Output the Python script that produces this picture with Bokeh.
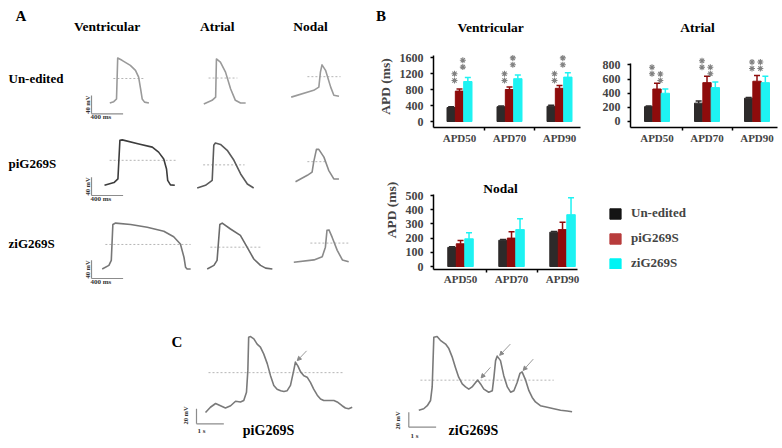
import math
from bokeh.plotting import figure
from bokeh.layouts import row, column
from bokeh.models import (ColumnDataSource, Range1d, FixedTicker, Legend, LegendItem,
                          Arrow, NormalHead, Label)
from bokeh.transform import dodge
from bokeh.embed import file_html
from bokeh.resources import INLINE
from bokeh.core.properties import value

FONT = "Liberation Serif"

# ---------------- data: panel B (APD, ms) ----------------
GROUP_POS = [1, 2, 3]
GROUP_LABELS = {1: "APD50", 2: "APD70", 3: "APD90"}
SERIES_NAMES = ["Un-edited", "piG269S", "ziG269S"]

VENT_UN = [350, 370, 380]
VENT_UN_ERR = [20, 20, 25]
VENT_PI = [760, 800, 830]
VENT_PI_ERR = [50, 60, 70]
VENT_ZI = [1000, 1070, 1110]
VENT_ZI_ERR = [100, 90, 110]
VENT_TICKS = [0, 400, 800, 1200, 1600]
VENT_STAR_PI = [1025, 1025, 1025]
VENT_STAR_ZI = [1360, 1420, 1420]

ATR_UN = [210, 260, 330]
ATR_UN_ERR = [10, 30, 10]
ATR_PI = [460, 550, 570]
ATR_PI_ERR = [80, 90, 80]
ATR_ZI = [400, 480, 550]
ATR_ZI_ERR = [60, 80, 90]
ATR_TICKS = [0, 200, 400, 600, 800]
ATR_STAR_PI = [676, 769, 750]
ATR_STAR_ZI = [581, 676, 750]

NOD_UN = [135, 185, 242]
NOD_UN_ERR = [5, 5, 5]
NOD_PI = [160, 200, 260]
NOD_PI_ERR = [23, 45, 52]
NOD_ZI = [195, 260, 365]
NOD_ZI_ERR = [42, 76, 120]
NOD_TICKS = [0, 100, 200, 300, 400, 500]

# ---------------- data: panel A action potentials (ms, mV) ----------------
UN_VENT_T = [0, 50, 85, 100, 155, 260, 325, 365, 390, 410, 440, 495]
UN_VENT_V = [-84, -81, -75, 15, 10, -1, -12, -27, -53, -75, -82, -84]
UN_ATR_T = [0, 105, 150, 160, 210, 275, 340, 400, 465, 530]
UN_ATR_V = [-86, -78, -71, 13, 6, -16, -53, -78, -84, -84]
UN_NOD_T = [0, 285, 350, 370, 390, 435, 500, 540, 605]
UN_NOD_V = [-71, -56, -49, -16, 0, -12, -49, -67, -69]

PI_VENT_T = [0, 120, 170, 195, 225, 435, 605, 685, 750, 785, 800, 835, 890]
PI_VENT_V = [-78, -72, -64, 21, 22, 13, 6, -5, -20, -42, -67, -77, -78]
PI_ATR_T = [0, 105, 190, 210, 230, 295, 380, 465, 550, 635, 715]
PI_ATR_V = [-84, -78, -67, 10, 15, 12, -1, -23, -53, -75, -84]
PI_NOD_T = [0, 150, 210, 230, 265, 295, 360, 420, 485, 550]
PI_NOD_V = [-70, -56, -49, -27, 1, 1, -16, -45, -64, -64]

ZI_VENT_T = [0, 85, 115, 135, 170, 360, 570, 780, 905, 990, 1035, 1055, 1075, 1120]
ZI_VENT_V = [-85, -77, -66, 13, 16, 13, 7, -2, -14, -30, -59, -81, -85, -85]
ZI_ATR_T = [0, 85, 125, 160, 190, 295, 420, 505, 590, 675, 740, 825]
ZI_ATR_V = [-85, -77, -66, 13, 16, 3, -11, -37, -63, -77, -83, -85]
ZI_NOD_T = [0, 255, 360, 400, 420, 445, 485, 550, 615, 695]
ZI_NOD_V = [-70, -65, -58, -37, 0, 1, -15, -44, -65, -69]

# APD50 reference lines: start ms, end ms, level mV
UN_DASH = [(45, 425, -30), (60, 425, -29), (205, 625, -26)]
PI_DASH = [(65, 900, -23), (75, 600, -33), (150, 400, -26)]
ZI_DASH = [(40, 1120, -31), (40, 695, -37), (210, 690, -28)]

ROW_LABELS = ["Un-edited", "piG269S", "ziG269S"]
COL_LABELS = ["Ventricular", "Atrial", "Nodal"]

# ---------------- data: panel C (s, mV) ----------------
PI_C_T = [0, 0.18, 0.37, 0.55, 0.73, 0.92, 1.10, 1.28, 1.40, 1.50, 1.55, 1.58, 1.65, 1.77,
          1.89, 2.01, 2.13, 2.26, 2.38, 2.50, 2.62, 2.75, 2.87, 2.99, 3.11, 3.23, 3.29, 3.38,
          3.48, 3.60, 3.72, 3.84, 3.96, 4.09, 4.21, 4.33, 4.45, 4.70, 4.82, 5.00, 5.12, 5.24, 5.37]
PI_C_V = [-70, -63, -58, -61, -64, -61, -55, -56, -54, -43, -14, 30, 31, 28, 21, 17, 8, -5,
          -21, -34, -39, -41, -42, -41, -34, -14, -3, -8, -16, -21, -23, -30, -39, -47, -52,
          -54, -54, -54, -56, -61, -64, -65, -63]
ZI_C_T = [0, 0.18, 0.31, 0.43, 0.49, 0.53, 0.55, 0.67, 0.79, 0.98, 1.10, 1.22, 1.34, 1.46,
          1.59, 1.71, 1.83, 1.95, 2.08, 2.16, 2.26, 2.38, 2.56, 2.69, 2.75, 2.81, 2.87, 2.99,
          3.11, 3.24, 3.36, 3.48, 3.60, 3.70, 3.78, 3.91, 4.03, 4.15, 4.27, 4.45, 4.70, 4.94,
          5.19, 5.43, 5.61]
ZI_C_V = [-67, -65, -61, -54, -36, 8, 30, 31, 26, 21, 15, 4, -10, -23, -32, -36, -39, -36,
          -30, -27, -32, -39, -43, -41, -23, -1, 5, -1, -21, -36, -43, -41, -30, -18, -16,
          -27, -41, -50, -56, -61, -63, -65, -67, -68, -69]
PI_C_DASH = (0.11, 5.05, -17)
ZI_C_DASH = (0.06, 4.94, -27)
# arrows: tip t, tip v, tail t, tail v
PI_C_ARROWS = [(3.36, -1, 3.70, 12)]
ZI_C_ARROWS = [(2.28, -24, 2.62, -10), (2.96, 6, 3.35, 21), (3.82, -14, 4.19, 1)]

BAR_COLORS = ["#2d2a2a", "#8e0c0c", "#1ef2f2"]
LEGEND_COLORS = ["#141414", "#b83c3c", "#00f4f4"]
SCALE_COLOR = "#8c8c8c"

LEFT_W = 370          # width of panel A
RIGHT_W = 782 - LEFT_W
HEAD_H = 45


def blank(w, h, xr, yr):
    p = figure(width=w, height=h, x_range=Range1d(*xr), y_range=Range1d(*yr),
               output_backend="svg", toolbar_location=None,
               x_axis_location=None, y_axis_location=None, min_border=0)
    p.grid.visible = False
    p.outline_line_color = None
    return p


def txt(p, xs, ys, texts, size, align="center", baseline="middle", color="black", angle=0.0):
    p.text(x=xs, y=ys, text=texts, text_font=value(FONT), text_font_size=size,
           text_font_style="bold", text_align=align, text_baseline=baseline,
           text_color=color, angle=angle)


def lab(p, x, y, text, size, align="center"):
    p.add_layout(Label(x=x, y=y, text=text, text_font=FONT, text_font_size=size,
                       text_font_style="bold", text_align=align, text_baseline="middle",
                       text_color="black"))


# ================= header strip (panel letters and column titles) =================
pHead = blank(782, HEAD_H, (0, 782), (0, HEAD_H))
lab(pHead, 15, HEAD_H - 15, "A", "15px", align="left")
for xc, name in zip([106.7, 216.7, 310], COL_LABELS):
    lab(pHead, xc, HEAD_H - 26, name, "13.5px")
lab(pHead, 375.5, HEAD_H - 15, "B", "15px", align="left")
lab(pHead, 490, HEAD_H - 27, "Ventricular", "13.5px")
lab(pHead, 697, HEAD_H - 27, "Atrial", "13.5px")

# ================= Panel A =================
SXA, SYA = 12.66, 2.2      # ms per px, mV per px
def axp(px): return px * SXA
def ayp(py): return (300 - py) * SYA

pA = blank(LEFT_W, 300 - HEAD_H, (0, LEFT_W * SXA), (0, (300 - HEAD_H) * SYA))
rows = [
    (ayp(103) + 85, [(UN_VENT_T, UN_VENT_V, 109.3, "#9a9a9a"), (UN_ATR_T, UN_ATR_V, 203.3, "#9a9a9a"),
                     (UN_NOD_T, UN_NOD_V, 290.7, "#9a9a9a")], UN_DASH, 113.3),
    (ayp(188) + 85, [(PI_VENT_T, PI_VENT_V, 104.0, "#3c3c3c"), (PI_ATR_T, PI_ATR_V, 196.7, "#5a5a5a"),
                     (PI_NOD_T, PI_NOD_V, 295.0, "#8a8a8a")], PI_DASH, 195.0),
    (ayp(268.5) + 85, [(ZI_VENT_T, ZI_VENT_V, 101.7, "#777777"), (ZI_ATR_T, ZI_ATR_V, 206.7, "#6a6a6a"),
                       (ZI_NOD_T, ZI_NOD_V, 293.3, "#8a8a8a")], ZI_DASH, 278.0),
]
for yoff, traces, dashes, bar_py in rows:
    for (T, V, start_px, col), (d0, d1, lvl) in zip(traces, dashes):
        xo = axp(start_px)
        pA.line([xo + d0, xo + d1], [yoff + lvl, yoff + lvl], line_color="#b5b5b5",
                line_width=1, line_dash="2 2")
        pA.line([xo + t for t in T], [yoff + v for v in V], line_color=col, line_width=1.6,
                line_join="round")
    # scale bars 40 mV / 400 ms
    sx0, sy0 = axp(91), ayp(bar_py)
    pA.segment(x0=[sx0, sx0], y0=[sy0, sy0], x1=[sx0, sx0 + 400], y1=[sy0 + 40, sy0],
               line_color=SCALE_COLOR, line_width=1.2)
    txt(pA, [axp(87)], [sy0 + 20], ["40 mV"], "6.5px", angle=math.pi / 2, color="#333333")
    txt(pA, [axp(90)], [ayp(bar_py + 3.5)], ["400 ms"], "7px", align="left", color="#333333")

txt(pA, [axp(8)] * 3, [ayp(78), ayp(163), ayp(243)], ROW_LABELS, "13px", align="left")


# ================= Panel B =================
def bar_chart(w, h, left, bottom, xr, xbounds, yr, ybounds, ticks, means, errs,
              stars, star_gap, ylabel, tick_standoff, xlab_standoff):
    p = figure(width=w, height=h, x_range=Range1d(*xr), y_range=Range1d(*yr),
               output_backend="svg", toolbar_location=None, min_border_left=left,
               min_border_right=0, min_border_top=0, min_border_bottom=bottom)
    p.grid.visible = False
    p.outline_line_color = None
    offs = [-1 / 6, 0, 1 / 6]
    for m, e, off, col in zip(means, errs, offs, BAR_COLORS):
        src = ColumnDataSource(dict(x=GROUP_POS, top=m, up=[a + b for a, b in zip(m, e)]))
        xs = dodge("x", off)
        p.vbar(x=xs, top="top", bottom=0, width=1 / 6, source=src, fill_color=col, line_color=col)
        p.segment(x0=xs, y0="top", x1=xs, y1="up", source=src, line_color=col, line_width=1.5)
        p.scatter(x=xs, y="up", marker="dash", size=6, line_color=col, line_width=1.5, source=src)
    if stars:
        for s, off in zip(stars, offs[1:]):
            src = ColumnDataSource(dict(x=GROUP_POS, y=s, y2=[v + star_gap for v in s]))
            for yc in ("y", "y2"):
                p.scatter(x=dodge("x", off - 0.1), y=yc, marker="asterisk", size=6,
                          line_color="#808080", line_width=1.1, source=src)
    xa = p.xaxis[0]
    xa.ticker = FixedTicker(ticks=GROUP_POS, minor_ticks=[1.5, 2.5])
    xa.major_label_overrides = GROUP_LABELS
    xa.bounds = xbounds
    xa.major_tick_out = 0
    xa.major_tick_in = 0
    xa.minor_tick_out = 3
    xa.minor_tick_in = 0
    xa.major_label_standoff = xlab_standoff
    xa.axis_line_width = 1.5
    xa.minor_tick_line_width = 1.5
    xa.major_label_text_font = FONT
    xa.major_label_text_font_style = "bold"
    xa.major_label_text_font_size = "11px"
    ya = p.yaxis[0]
    ya.ticker = FixedTicker(ticks=ticks)
    ya.bounds = ybounds
    ya.major_tick_out = 3
    ya.major_tick_in = 0
    ya.minor_tick_out = 0
    ya.minor_tick_in = 0
    ya.axis_line_width = 1.5
    ya.major_tick_line_width = 1.5
    ya.major_label_standoff = tick_standoff
    ya.major_label_text_font = FONT
    ya.major_label_text_font_style = "bold"
    ya.major_label_text_font_size = "12px"
    if ylabel:
        ya.axis_label = ylabel
        ya.axis_label_standoff = 4
        ya.axis_label_text_font = FONT
        ya.axis_label_text_font_style = "bold"
        ya.axis_label_text_font_size = "13.5px"
    return p


V_W = 590 - LEFT_W
pV = bar_chart(V_W, 150 - HEAD_H, 433 - LEFT_W, 23, (0.48, 3.62), (0.48, 3.42), (-150, 1900),
               (-150, 1650), VENT_TICKS, [VENT_UN, VENT_PI, VENT_ZI],
               [VENT_UN_ERR, VENT_PI_ERR, VENT_ZI_ERR], [VENT_STAR_PI, VENT_STAR_ZI], 170,
               "APD (ms)", 7, 1)
pAt = bar_chart(782 - 590, 150 - HEAD_H, 40, 23, (0.47, 3.51), (0.47, 3.41), (-85, 1076),
                (-85, 820), ATR_TICKS, [ATR_UN, ATR_PI, ATR_ZI],
                [ATR_UN_ERR, ATR_PI_ERR, ATR_ZI_ERR], [ATR_STAR_PI, ATR_STAR_ZI], 92, None, 7, 1)
pN = bar_chart(RIGHT_W, 150, 433 - LEFT_W, 31, (0.47, 7.313), (0.47, 3.29), (-21.1, 817),
               (-21.1, 505), NOD_TICKS, [NOD_UN, NOD_PI, NOD_ZI],
               [NOD_UN_ERR, NOD_PI_ERR, NOD_ZI_ERR], None, 0, "APD (ms)", 7, 0)
txt(pN, [0.47 + (500 - 433) / 51], [(266 - 188) / 0.142], ["Nodal"], "13.5px")

nan = float("nan")
leg_rs = [pN.vbar(x=[nan], top=[nan], width=0.1, fill_color=c, line_color=c) for c in LEGEND_COLORS]
legend = Legend(items=[LegendItem(label=n, renderers=[r]) for n, r in zip(SERIES_NAMES, leg_rs)],
                location=(175, -2), orientation="vertical", glyph_width=14, glyph_height=13,
                label_height=13, spacing=9, padding=0, margin=0, label_standoff=9,
                border_line_color=None, background_fill_alpha=0,
                label_text_font=FONT, label_text_font_style="bold", label_text_font_size="13px")
pN.add_layout(legend)

# ================= Panel C =================
SXC, SYC = 0.0366, 1.33    # s per px, mV per px
def cx(px): return px * SXC
def cy(py): return (448 - py) * SYC

pC = blank(782, 148, (0, 782 * SXC), (0, 148 * SYC))
c_traces = [
    (PI_C_T, PI_C_V, 205.0, PI_C_DASH, PI_C_ARROWS, (196, 423.3), (185, 415), (197, 430),
     "piG269S", 268),
    (ZI_C_T, ZI_C_V, 418.3, ZI_C_DASH, ZI_C_ARROWS, (408.3, 426.7), (396.7, 420), (410, 435),
     "ziG269S", 473),
]
for T, V, start_px, (d0, d1, lvl), arrows, sb, mvlab, slab, name, name_x in c_traces:
    xo, yo = cx(start_px), cy(412) + 70
    pC.line([xo + d0, xo + d1], [yo + lvl, yo + lvl], line_color="#b5b5b5", line_width=1,
            line_dash="2 2")
    pC.line([xo + t for t in T], [yo + v for v in V], line_color="#7a7a7a", line_width=1.6,
            line_join="round")
    asrc = ColumnDataSource(dict(x1=[xo + a[0] for a in arrows], y1=[yo + a[1] for a in arrows],
                                 x0=[xo + a[2] for a in arrows], y0=[yo + a[3] for a in arrows]))
    pC.add_layout(Arrow(end=NormalHead(size=4, fill_color="#888888", line_color="#888888"),
                        x_start="x0", y_start="y0", x_end="x1", y_end="y1", source=asrc,
                        line_color="#9a9a9a", line_width=1))
    bx, by = cx(sb[0]), cy(sb[1])
    pC.segment(x0=[bx, bx], y0=[by, by], x1=[bx, bx + 1.0], y1=[by + 20, by],
               line_color=SCALE_COLOR, line_width=1.2)
    txt(pC, [cx(mvlab[0])], [cy(mvlab[1])], ["20 mV"], "6.5px", angle=math.pi / 2, color="#333333")
    txt(pC, [cx(slab[0])], [cy(slab[1])], ["1 s"], "7px", align="left", color="#333333")
    txt(pC, [cx(name_x)], [cy(430)], [name], "14px")
txt(pC, [cx(171)], [cy(341.7)], ["C"], "15px", align="left")

layout = column(pHead, row(pA, column(row(pV, pAt), pN)), pC)
open("out.html", "w").write(file_html(layout, INLINE))
